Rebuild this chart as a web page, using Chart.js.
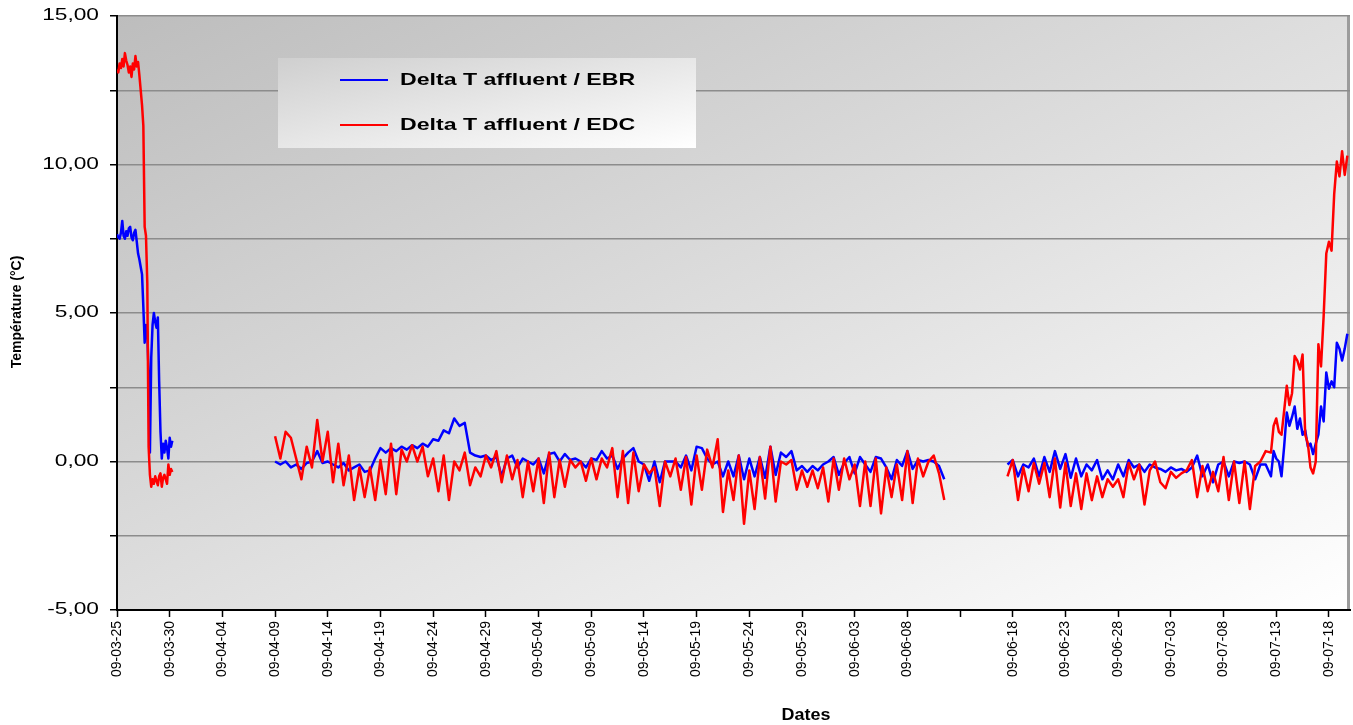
<!DOCTYPE html>
<html>
<head>
<meta charset="utf-8">
<title>Delta T affluent</title>
<script src="https://cdn.jsdelivr.net/npm/chart.js@4/dist/chart.umd.min.js"></script>
<style>
  html, body { margin: 0; padding: 0; background: #ffffff; }
  #wrap { width: 1353px; height: 725px; }
</style>
</head>
<body>
<div id="wrap"><canvas id="chart" width="1353" height="725"></canvas></div>
<script>
// Series names and colours
const seriesNames = ['Delta T affluent / EBR', 'Delta T affluent / EDC'];
const seriesColors = ['#0000ff', '#ff0000'];

// Date ticks every 5 days from 2009-03-25 (day 0); the 09-06-13 tick carries no label
const tickLabels = ['09-03-25', '09-03-30', '09-04-04', '09-04-09', '09-04-14', '09-04-19',
  '09-04-24', '09-04-29', '09-05-04', '09-05-09', '09-05-14', '09-05-19', '09-05-24',
  '09-05-29', '09-06-03', '09-06-08', '', '09-06-18', '09-06-23', '09-06-28', '09-07-03',
  '09-07-08', '09-07-13', '09-07-18'];

// Late March run: day 0 to 5.25, every 3 hours
const ebrMar = [7.65, 7.55, 7.5, 7.7, 8.1, 7.6, 7.5, 7.75, 7.6, 7.85,
  7.9, 7.55, 7.45, 7.7, 7.8, 7.4, 7.0, 6.8, 6.55, 6.3,
  5.2, 4.0, 4.6, 4.3, 3.0, 0.3, 3.5, 4.6, 5.0, 4.7,
  4.5, 4.85, 2.7, 1.0, 0.1, 0.6, 0.3, 0.7, 0.45, 0.1,
  0.8, 0.5, 0.7];
const edcMar = [13.2, 13.1, 13.4, 13.25, 13.55, 13.3, 13.75, 13.5, 13.35, 13.1,
  13.3, 12.95, 13.4, 13.2, 13.65, 13.3, 13.45, 13.0, 12.5, 12.0,
  11.3, 7.9, 7.6, 6.0, 0.5, -0.45, -0.85, -0.6, -0.75, -0.5,
  -0.65, -0.8, -0.5, -0.4, -0.85, -0.55, -0.45, -0.6, -0.75, -0.1,
  -0.45, -0.25, -0.35];

// April to mid-June run: day 15 to 78.5, every 12 hours
const ebrAprJun = [0.0, -0.1, 0.0, -0.2, -0.1, -0.25, -0.05, 0.0, 0.35, -0.05,
  0.0, -0.1, -0.2, -0.05, -0.3, -0.2, -0.1, -0.35, -0.3, 0.1,
  0.45, 0.3, 0.45, 0.35, 0.5, 0.4, 0.55, 0.45, 0.6, 0.5,
  0.75, 0.7, 1.05, 0.95, 1.45, 1.2, 1.3, 0.3, 0.2, 0.15,
  0.2, 0.05, 0.15, -0.5, 0.1, 0.2, -0.2, 0.1, 0.0, -0.1,
  0.1, -0.4, 0.25, 0.3, 0.0, 0.25, 0.05, 0.1, 0.0, -0.2,
  0.1, 0.05, 0.35, 0.1, 0.2, -0.25, 0.1, 0.3, 0.45, 0.0,
  -0.1, -0.65, 0.0, -0.7, 0.0, 0.0, 0.0, -0.2, 0.2, -0.3,
  0.5, 0.45, 0.1, -0.1, 0.0, -0.5, 0.0, -0.5, 0.2, -0.6,
  0.1, -0.5, 0.15, -0.55, 0.5, -0.45, 0.3, 0.15, 0.35, -0.3,
  -0.15, -0.35, -0.15, -0.3, -0.1, 0.0, 0.15, -0.45, -0.05, 0.15,
  -0.4, 0.15, -0.1, -0.35, 0.15, 0.1, -0.2, -0.6, 0.05, -0.15,
  0.35, -0.25, 0.05, 0.0, 0.05, 0.0, -0.15, -0.6];
const edcAprJun = [0.85, 0.1, 1.0, 0.8, 0.1, -0.6, 0.5, -0.2, 1.4, 0.0,
  1.0, -0.7, 0.6, -0.8, 0.2, -1.3, -0.2, -1.2, -0.2, -1.3,
  0.05, -1.1, 0.6, -1.1, 0.4, 0.0, 0.55, 0.0, 0.5, -0.5,
  0.1, -1.0, 0.2, -1.3, 0.0, -0.3, 0.3, -0.8, -0.2, -0.5,
  0.2, -0.2, 0.35, -0.7, 0.2, -0.6, 0.05, -1.2, 0.0, -1.0,
  0.1, -1.4, 0.3, -1.2, 0.05, -0.85, 0.05, -0.2, 0.0, -0.65,
  0.1, -0.6, 0.1, -0.2, 0.45, -1.2, 0.35, -1.4, 0.3, -1.0,
  -0.1, -0.4, -0.2, -1.5, 0.0, -0.5, 0.1, -0.95, 0.15, -1.45,
  0.2, -0.95, 0.4, -0.2, 0.75, -1.7, -0.3, -1.3, 0.2, -2.1,
  -0.3, -1.6, 0.15, -1.25, 0.5, -1.35, 0.0, -0.1, 0.05, -0.95,
  -0.3, -0.85, -0.3, -0.9, -0.2, -1.35, 0.1, -0.95, 0.1, -0.6,
  -0.1, -1.5, 0.0, -1.5, 0.1, -1.75, -0.2, -1.2, -0.1, -1.3,
  0.35, -1.4, 0.1, -0.5, 0.0, 0.2, -0.4, -1.3];

// Mid-June to early July run: day 84.5 to 109.5, every 12 hours
const ebrJunJul = [-0.1, 0.05, -0.5, -0.1, -0.2, 0.1, -0.5, 0.15, -0.35, 0.35,
  -0.25, 0.25, -0.55, 0.1, -0.5, -0.1, -0.3, 0.05, -0.6, -0.3,
  -0.6, -0.1, -0.5, 0.05, -0.2, -0.1, -0.35, -0.1, -0.2, -0.25,
  -0.35, -0.2, -0.3, -0.25, -0.35, -0.2, 0.2, -0.5, -0.1, -0.7,
  -0.1, 0.0, -0.5, 0.0, -0.05, 0.0, -0.1, -0.6, -0.1, -0.1,
  -0.5];
const edcJunJul = [-0.5, 0.05, -1.3, -0.2, -1.0, -0.05, -0.75, -0.05, -1.2, 0.1,
  -1.55, -0.05, -1.5, -0.4, -1.6, -0.4, -1.3, -0.5, -1.2, -0.6,
  -0.85, -0.6, -1.2, -0.05, -0.6, -0.1, -1.45, -0.3, 0.0, -0.7,
  -0.9, -0.35, -0.55, -0.4, -0.3, 0.05, -1.2, -0.15, -1.0, -0.35,
  -1.0, 0.15, -1.3, 0.0, -1.4, 0.0, -1.6, -0.15, 0.0, 0.35,
  0.3];

// Mid-July rise: day 109.75 to 116.75, every 6 hours
const ebrJul = [0.35, 0.1, 0.0, -0.5, 0.5, 1.65, 1.2, 1.5, 1.85, 1.1,
  1.45, 0.9, 1.05, 0.5, 0.6, 0.25, 0.6, 0.9, 1.85, 1.35,
  3.0, 2.45, 2.7, 2.5, 4.0, 3.8, 3.4, 3.8, 4.3];
const edcJul = [1.2, 1.45, 1.0, 0.9, 1.7, 2.55, 1.9, 2.3, 3.55, 3.4,
  3.1, 3.6, 0.9, 0.6, -0.2, -0.4, 0.0, 3.95, 3.2, 4.9,
  7.0, 7.4, 7.1, 9.0, 10.1, 9.6, 10.45, 9.65, 10.3];

// Timing of each run (days since 2009-03-25); gapBefore breaks the line
const runs = [
  { start: 0, step: 0.125, gapBefore: false, ebr: ebrMar, edc: edcMar },
  { start: 15, step: 0.5, gapBefore: true, ebr: ebrAprJun, edc: edcAprJun },
  { start: 84.5, step: 0.5, gapBefore: true, ebr: ebrJunJul, edc: edcJunJul },
  { start: 109.75, step: 0.25, gapBefore: false, ebr: ebrJul, edc: edcJul }
];

function buildPoints(key) {
  const pts = [];
  runs.forEach(run => {
    if (run.gapBefore) pts.push({ x: run.start - run.step, y: null });
    run[key].forEach((v, i) => pts.push({ x: run.start + i * run.step, y: v }));
  });
  return pts;
}

function formatValue(v) {
  return v.toFixed(2).replace('.', ',');
}

const FONT = '"Liberation Sans", Arial, Helvetica, sans-serif';

// Grey diagonal shading behind the plot
const plotBackdrop = {
  id: 'plotBackdrop',
  beforeDraw(chart) {
    const { ctx, chartArea: a } = chart;
    ctx.save();
    ctx.fillStyle = '#ffffff';
    ctx.fillRect(0, 0, chart.width, chart.height);
    ctx.translate(a.left, a.top);
    ctx.scale(a.right - a.left, a.bottom - a.top);
    const g = ctx.createLinearGradient(0, 0, 1, 1);
    g.addColorStop(0, '#bdbdbd');
    g.addColorStop(1, '#ffffff');
    ctx.fillStyle = g;
    ctx.fillRect(0, 0, 1, 1);
    ctx.restore();
    ctx.save();
    ctx.strokeStyle = '#9c9c9c';
    ctx.lineWidth = 3;
    ctx.beginPath();
    ctx.moveTo(a.right - 1.5, a.top);
    ctx.lineTo(a.right - 1.5, a.bottom);
    ctx.stroke();
    ctx.restore();
  }
};

// Axis value labels, axis titles and the boxed legend
const annotations = {
  id: 'annotations',
  afterDraw(chart) {
    const { ctx, scales: { y } } = chart;
    ctx.save();
    ctx.fillStyle = '#000000';
    ctx.textBaseline = 'middle';

    ctx.font = '16px ' + FONT;
    ctx.textAlign = 'right';
    y.ticks.forEach(t => {
      if (Math.abs(t.value % 5) > 1e-9) return;
      ctx.save();
      ctx.translate(99, y.getPixelForValue(t.value));
      ctx.scale(1.42, 1);
      ctx.fillText(formatValue(t.value), 0, 0);
      ctx.restore();
    });

    ctx.save();
    ctx.translate(17, 312);
    ctx.rotate(-Math.PI / 2);
    ctx.textAlign = 'center';
    ctx.font = 'bold 14px ' + FONT;
    ctx.fillText('Température (°C)', 0, 0);
    ctx.restore();

    ctx.save();
    ctx.translate(806, 716);
    ctx.scale(1.12, 1);
    ctx.textAlign = 'center';
    ctx.font = 'bold 16px ' + FONT;
    ctx.fillText('Dates', 0, 0);
    ctx.restore();

    // legend box
    const box = { x: 278, y: 58, w: 418, h: 90 };
    ctx.save();
    ctx.translate(box.x, box.y);
    ctx.scale(box.w, box.h);
    const g = ctx.createLinearGradient(0, 0, 1, 1);
    g.addColorStop(0, '#cfcfcf');
    g.addColorStop(1, '#ffffff');
    ctx.fillStyle = g;
    ctx.fillRect(0, 0, 1, 1);
    ctx.restore();

    const rows = [80, 125];
    chart.data.datasets.forEach((ds, i) => {
      const ry = rows[i];
      ctx.strokeStyle = ds.borderColor;
      ctx.lineWidth = 2;
      ctx.beginPath();
      ctx.moveTo(340, ry);
      ctx.lineTo(388, ry);
      ctx.stroke();
      ctx.save();
      ctx.translate(400, ry);
      ctx.scale(1.36, 1);
      ctx.textAlign = 'left';
      ctx.font = 'bold 17px ' + FONT;
      ctx.fillStyle = '#000000';
      ctx.fillText(ds.label, 0, 0);
      ctx.restore();
    });
    ctx.restore();
  }
};

new Chart(document.getElementById('chart'), {
  type: 'line',
  data: {
    datasets: [
      { label: seriesNames[0], data: buildPoints('ebr'), borderColor: seriesColors[0],
        borderWidth: 2.5, pointRadius: 0, tension: 0, spanGaps: false, order: 1,
        borderJoinStyle: 'round' },
      { label: seriesNames[1], data: buildPoints('edc'), borderColor: seriesColors[1],
        borderWidth: 2.5, pointRadius: 0, tension: 0, spanGaps: false, order: 0,
        borderJoinStyle: 'round' }
    ]
  },
  options: {
    responsive: false,
    animation: false,
    events: [],
    layout: { padding: { top: 16, right: 3, left: 0, bottom: 0 } },
    plugins: { legend: { display: false }, tooltip: { enabled: false } },
    scales: {
      x: {
        type: 'linear', min: 0, max: 117,
        ticks: {
          stepSize: 5, includeBounds: false, autoSkip: false,
          minRotation: 90, maxRotation: 90, padding: 4, color: '#000000',
          font: { family: FONT, size: 14 },
          callback: (value) => tickLabels[Math.round(value / 5)]
        },
        grid: { drawOnChartArea: false, tickLength: 7, tickColor: '#000000', tickWidth: 1.5 },
        border: { color: '#000000', width: 2 },
        afterFit: (scale) => { scale.height = 115; }
      },
      y: {
        min: -5, max: 15,
        ticks: { stepSize: 2.5, display: false },
        grid: { color: '#8c8c8c', lineWidth: 1.5, tickLength: 7, tickColor: '#000000', tickWidth: 1.5 },
        border: { color: '#000000', width: 2 },
        afterFit: (scale) => { scale.width = 117; }
      }
    }
  },
  plugins: [plotBackdrop, annotations]
});
</script>
</body>
</html>
